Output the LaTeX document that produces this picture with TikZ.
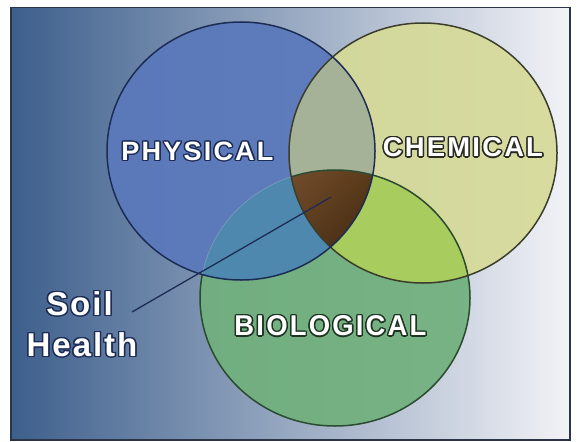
\documentclass[tikz,border=0pt]{standalone}
\usepackage{fontspec}
\usepackage{contour}
\usetikzlibrary{shadings}
\newfontfamily\lblfont[LetterSpace=8]{Liberation Sans}
\newfontfamily\shfont[LetterSpace=6]{Liberation Sans}
\contourlength{1.4pt}
\contournumber{16}
\definecolor{bgL}{HTML}{3D5F8C}
\definecolor{bgM}{HTML}{97A4C3}
\definecolor{bgR}{HTML}{F3F3F7}
\definecolor{frameC}{HTML}{2A3548}
\definecolor{physC}{HTML}{5B79BB}
\definecolor{chemC}{HTML}{D6DA98}
\definecolor{bioC}{HTML}{70B07C}
\definecolor{pcC}{HTML}{A5B298}
\definecolor{pbC}{HTML}{4F88AE}
\definecolor{cbC}{HTML}{A9CC5E}
\definecolor{physL}{HTML}{1D2C55}
\definecolor{chemL}{HTML}{3B3D2B}
\definecolor{chemT}{HTML}{2A2A24}
\definecolor{bioL}{HTML}{2B4B2E}
\definecolor{bioT}{HTML}{1E3322}
\definecolor{bioFaint}{HTML}{7598BB}
\definecolor{brUL}{HTML}{765030}
\definecolor{brUR}{HTML}{5A3A18}
\definecolor{brLL}{HTML}{5E3D1E}
\definecolor{brLR}{HTML}{3F2810}
\def\Pshape{(241,151) ellipse (134pt and 129pt)}
\def\Cshape{(423,153) ellipse (134pt and 130pt)}
\def\Bshape{(335,298) ellipse (135pt and 128pt)}
\tikzset{
  outline/.style={line width=1.5pt},
  biglabel/.style={inner sep=0pt, text=white, font=\lblfont\bfseries},
  shlabel/.style={inner sep=0pt, text=white, font=\shfont\bfseries\fontsize{33}{41}\selectfont, anchor=base},
  leader/.style={draw=physL, line width=1.3pt}
}
\begin{document}
\begin{tikzpicture}[x=1pt,y=-1pt]
\useasboundingbox (0,0) rectangle (577,441);
\fill[white] (0,0) rectangle (577,441);
% background
\shade[left color=bgL, middle color=bgM, right color=bgR] (11,7.5) rectangle (570,440);
\draw[frameC, line width=1.5pt] (11,7.5) rectangle (570,440);
% single circles
\fill[bioC, fill opacity=0.92] \Bshape;
\fill[chemC, fill opacity=0.92] \Cshape;
\fill[physC, fill opacity=0.95] \Pshape;
% pairwise overlaps
\begin{scope}\clip \Pshape; \fill[pcC] \Cshape; \end{scope}
\begin{scope}\clip \Pshape; \fill[pbC] \Bshape; \end{scope}
\begin{scope}\clip \Cshape; \fill[cbC] \Bshape; \end{scope}
% triple overlap
\begin{scope}
  \clip \Pshape; \clip \Cshape; \clip \Bshape;
  \shade[upper left=brUL, upper right=brUR, lower left=brLL, lower right=brLR] (285,165) rectangle (380,245);
\end{scope}
% outlines
\begin{scope}[even odd rule]
  \clip (0,0) rectangle (577,441) \Pshape;
  \draw[bioL, outline] \Bshape;
\end{scope}
\begin{scope}
  \clip \Pshape;
  \draw[bioFaint, line width=0.8pt] \Bshape;
  \clip \Cshape;
  \draw[bioL, outline] \Bshape;
\end{scope}
\draw[chemL, outline] \Cshape;
\draw[physL, outline] \Pshape;
% labels
\node[biglabel] (phys) at (197.5,152) {\contour{physL}{\resizebox{152pt}{18.5pt}{PHYSICAL}}};
\node[biglabel] (chem) at (463,148) {\contour{chemT}{\resizebox{160pt}{19pt}{CHEMICAL}}};
\node[biglabel] (bio) at (330.5,326.5) {\contour{bioT}{\resizebox{192pt}{20pt}{BIOLOGICAL}}};
\node[shlabel] (soil) at (79.5,315.5) {\contour{physL}{Soil}};
\node[shlabel] (health) at (82,356.5) {\contour{physL}{Health}};
% leader line
\coordinate (core) at (331,197);
\coordinate (leadend) at (132,312);
\draw[leader] (core) -- (leadend);
\end{tikzpicture}
\end{document}
